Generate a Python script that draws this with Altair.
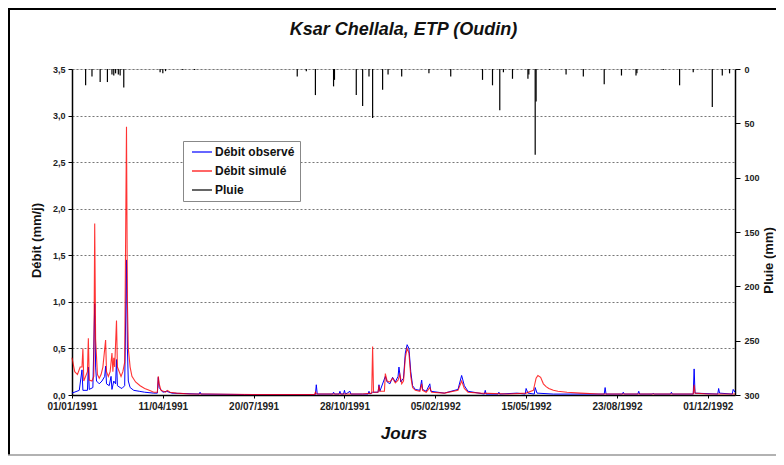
import altair as alt
import pandas as pd

# ---- data (day offset from 01/01/1991, value) ----
sim_days = [0, 3, 6, 9, 11, 12, 13, 15, 17, 18, 19, 22, 24, 25, 26, 28, 30, 32, 34, 37, 38, 40, 42, 44, 45, 46, 47, 49, 50,
            52, 54, 56, 58, 60, 61, 62, 64, 66, 70, 75, 80, 85, 90, 94, 95, 96, 98, 103, 105, 108, 115, 130, 150, 200,
            260, 267, 268, 269, 275, 320, 330, 331, 332, 337, 338, 339, 344, 345, 347, 350, 353, 356, 359, 361, 363, 365,
            367, 369, 371, 373, 375, 378, 383, 385, 386, 390, 394, 396, 410, 425, 429, 432, 436, 450, 480, 500, 508,
            511, 513, 516, 519, 522, 525, 530, 535, 545, 560, 580, 620, 684, 685, 686, 700, 730]
sim_vals = [0.40, 0.25, 0.22, 0.30, 0.30, 0.50, 0.15, 0.20, 0.25, 0.61, 0.16, 0.15, 0.20, 1.84, 0.60, 0.22, 0.18, 0.22,
            0.30, 0.59, 0.25, 0.20, 0.25, 0.45, 0.25, 0.40, 0.30, 0.80, 0.30, 0.25, 0.20, 0.25, 0.35, 2.88, 1.00, 0.50,
            0.30, 0.20, 0.14, 0.10, 0.07, 0.05, 0.03, 0.03, 0.20, 0.12, 0.05, 0.03, 0.05, 0.03, 0.02, 0.01, 0.01, 0.005,
            0.005, 0.005, 0.03, 0.01, 0.01, 0.01, 0.02, 0.52, 0.03, 0.03, 0.10, 0.04, 0.04, 0.23, 0.15, 0.14, 0.18, 0.13,
            0.16, 0.22, 0.12, 0.15, 0.40, 0.50, 0.45, 0.20, 0.08, 0.05, 0.04, 0.12, 0.05, 0.03, 0.08, 0.03, 0.02, 0.05,
            0.15, 0.07, 0.03, 0.02, 0.01, 0.02, 0.05, 0.18, 0.21, 0.19, 0.12, 0.09, 0.07, 0.05, 0.04, 0.03, 0.02, 0.01,
            0.01, 0.01, 0.11, 0.02, 0.01, 0.01]

obs_days = [0, 8, 11, 12, 17, 18, 19, 23, 25, 26, 27, 30, 33, 36, 37, 38, 41, 43, 44, 46, 48, 49, 50, 53, 55, 58, 60, 61,
            62, 64, 68, 74, 80, 90, 94, 95, 96, 100, 104, 110, 140, 141, 142, 190, 268, 269, 270, 287, 288, 289, 294,
            295, 296, 299, 300, 301, 303, 306, 307, 320, 326, 327, 328, 331, 337, 338, 339, 345, 347, 350, 353, 356,
            359, 360, 362, 365, 367, 369, 371, 373, 375, 378, 383, 385, 386, 390, 394, 395, 410, 425, 429, 432, 436,
            454, 455, 456, 469, 470, 471, 490, 499, 500, 502, 509, 510, 512, 530, 586, 587, 588, 606, 607, 608, 623,
            624, 625, 639, 640, 641, 659, 660, 661, 684, 685, 686, 711, 712, 713, 727, 728, 730]
obs_vals = [0.02, 0.05, 0.27, 0.05, 0.05, 0.30, 0.06, 0.08, 0.98, 0.30, 0.15, 0.12, 0.15, 0.20, 0.31, 0.12, 0.10, 0.20,
            0.06, 0.15, 0.12, 0.38, 0.10, 0.08, 0.07, 0.10, 1.45, 0.50, 0.15, 0.08, 0.05, 0.04, 0.03, 0.02, 0.02, 0.19,
            0.08, 0.03, 0.04, 0.02, 0.01, 0.03, 0.01, 0.005, 0.005, 0.11, 0.01, 0.01, 0.03, 0.01, 0.01, 0.04, 0.01, 0.01,
            0.05, 0.01, 0.02, 0.04, 0.01, 0.01, 0.01, 0.04, 0.01, 0.03, 0.03, 0.11, 0.04, 0.20, 0.14, 0.12, 0.19, 0.14,
            0.20, 0.30, 0.14, 0.18, 0.45, 0.54, 0.50, 0.25, 0.10, 0.06, 0.05, 0.16, 0.06, 0.04, 0.12, 0.04, 0.02, 0.06,
            0.21, 0.10, 0.04, 0.01, 0.05, 0.01, 0.01, 0.03, 0.01, 0.02, 0.01, 0.07, 0.02, 0.01, 0.08, 0.02, 0.01, 0.01,
            0.08, 0.01, 0.01, 0.03, 0.01, 0.01, 0.04, 0.01, 0.01, 0.02, 0.01, 0.01, 0.03, 0.01, 0.01, 0.28, 0.02, 0.01,
            0.07, 0.02, 0.01, 0.06, 0.03]

rain_days = [15, 22, 31, 39, 44, 46, 48, 51, 53, 57, 97, 100, 103, 122, 135, 248, 258, 268, 288, 289, 313, 320, 327,
             331, 342, 348, 363, 393, 417, 452, 463, 471, 475, 485, 502, 503, 510, 511, 526, 544, 563, 586, 605, 621,
             622, 651, 669, 684, 705, 716, 724]
rain_mm = [15, 7, 12, 12, 5, 6, 4, 5, 6, 17, 3, 4, 2, 1, 1, 7, 2, 24, 16, 10, 24, 34, 7, 45, 19, 5, 7, 4, 7, 10, 15, 38,
           3, 9, 9, 5, 79, 30, 1, 5, 7, 14, 6, 6, 4, 1, 15, 3, 35, 6, 4]

series_names = ["Débit observé", "Débit simulé", "Pluie"]
series_colors = ["#0000ff", "#ff0000", "#000000"]
x_ticks = [0, 100, 200, 300, 400, 500, 600, 700]
chart_title = "Ksar Chellala, ETP (Oudin)"

obs_df = pd.DataFrame({"day": obs_days, "q": obs_vals, "serie": series_names[0]})
sim_df = pd.DataFrame({"day": sim_days, "q": sim_vals, "serie": series_names[1]})
rain_df = pd.DataFrame({"day": rain_days, "mm": rain_mm, "zero": 0, "serie": series_names[2]})

FONT = "Liberation Sans"

color = alt.Color(
    "serie:N",
    scale=alt.Scale(domain=series_names, range=series_colors),
    legend=alt.Legend(
        title=None, orient="none", legendX=111, legendY=72,
        symbolType="M-2,0H2", symbolSize=100, symbolStrokeWidth=1.5, symbolOffset=8,
        labelFont=FONT, labelFontSize=12, labelFontWeight="bold", labelColor="#111", labelOffset=7,
        strokeColor="#888", fillColor="white", padding=5, rowPadding=7,
    ),
)

x_enc = alt.X(
    "day:Q",
    scale=alt.Scale(domain=[0, 730], nice=False, zero=False),
    axis=alt.Axis(
        values=x_ticks,
        labelExpr="utcFormat(utc(1991, 0, 1 + datum.value), '%d/%m/%Y')",
        title="Jours", titleFont=FONT, titleFontSize=17, titleFontWeight="bold", titleFontStyle="italic",
        titleColor="#111", titlePadding=14,
        labelFont=FONT, labelFontSize=10, labelFontWeight="bold", labelColor="#222",
        domainColor="black", domainWidth=1.5, tickColor="black", tickSize=3, labelPadding=3,
        grid=False, labelFlush=False,
    ),
)

yq_scale = alt.Scale(domain=[0, 3.5], nice=False)
yq_axis = alt.Axis(
    values=[0, 0.5, 1.0, 1.5, 2.0, 2.5, 3.0, 3.5],
    labelExpr="replace(format(datum.value, '.1f'), '.', ',')",
    title="Débit (mm/j)", titleFont=FONT, titleFontSize=13, titleFontWeight="bold", titleColor="#111",
    titleY=171, titlePadding=9,
    labelFont=FONT, labelFontSize=9, labelFontWeight="bold", labelColor="#222",
    domainColor="black", domainWidth=1.5, tickColor="black", tickSize=4, labelPadding=3,
    grid=True, gridColor="#777", gridDash=[2, 2], gridWidth=1,
)

obs_line = alt.Chart(obs_df).mark_line(strokeWidth=1, interpolate="linear").encode(
    x=x_enc, y=alt.Y("q:Q", scale=yq_scale, axis=yq_axis), color=color
)
sim_line = alt.Chart(sim_df).mark_line(strokeWidth=1.1, opacity=0.8).encode(
    x=x_enc, y=alt.Y("q:Q", scale=yq_scale, axis=yq_axis), color=color
)

rain = alt.Chart(rain_df).mark_rule(strokeWidth=1.2).encode(
    x=x_enc,
    y=alt.Y(
        "zero:Q",
        scale=alt.Scale(domain=[0, 300], reverse=True, nice=False),
        axis=alt.Axis(
            orient="right", values=[0, 50, 100, 150, 200, 250, 300],
            title="Pluie (mm)", titleFont=FONT, titleFontSize=13, titleFontWeight="bold", titleColor="#111",
            titleAngle=270, titleBaseline="top", titleY=191, titlePadding=3,
            labelFont=FONT, labelFontSize=9, labelFontWeight="bold", labelColor="#222",
            domainColor="black", domainWidth=1.5, tickColor="black", tickSize=5, labelPadding=4, grid=False,
        ),
    ),
    y2="mm:Q",
    color=color,
)

one_row = pd.DataFrame({"k": [0]})
frame_style = dict(color="black", strokeWidth=2)
frame_top = alt.Chart(one_row).mark_rule(**frame_style).encode(
    x=alt.value(-64), x2=alt.value(720), y=alt.value(-60)
)
frame_left = alt.Chart(one_row).mark_rule(**frame_style).encode(
    x=alt.value(-63), y=alt.value(-61), y2=alt.value(386)
)
frame_bottom = alt.Chart(one_row).mark_rule(color="#999", strokeWidth=1.5).encode(
    x=alt.value(-64), x2=alt.value(720), y=alt.value(386)
)
title_mark = alt.Chart(one_row).mark_text(
    font=FONT, fontSize=18, fontWeight="bold", fontStyle="italic", color="#111",
    align="center", baseline="middle",
).encode(x=alt.value(331.5), y=alt.value(-39), text=alt.value(chart_title))

qlayers = alt.layer(obs_line, sim_line)
chart = (
    alt.layer(qlayers, rain, frame_top, frame_left, frame_bottom, title_mark)
    .resolve_scale(y="independent")
    .properties(
        width=663, height=326,
        autosize=alt.AutoSizeParams(type="none"),
        padding={"left": 64, "top": 61, "right": 41, "bottom": 61},
    )
    .configure_view(strokeWidth=0)
    .configure(background="white")
)

chart.save("out.html", embed_options={"renderer": "svg", "actions": False})
